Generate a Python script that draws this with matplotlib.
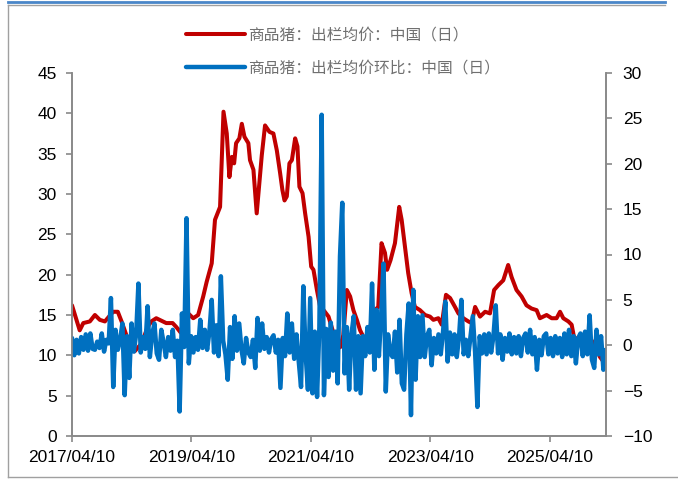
import matplotlib
matplotlib.use("Agg")
import matplotlib.pyplot as plt
from matplotlib.lines import Line2D
import pandas as pd

plt.rcParams['font.family'] = ['Liberation Sans', 'DejaVu Sans']

# 商品猪：出栏均价（元/公斤），按日期读取
price_dates = [
    "2017-04-10", "2017-05-01", "2017-05-27", "2017-06-18", "2017-07-28", "2017-08-28",
    "2017-09-27", "2017-10-28", "2017-12-17", "2018-01-15", "2018-02-07", "2018-03-17",
    "2018-04-28", "2018-06-10", "2018-07-16", "2018-08-08", "2018-09-07", "2018-11-07",
    "2018-12-16", "2019-01-08", "2019-02-04", "2019-02-23", "2019-03-11", "2019-04-21",
    "2019-05-21", "2019-06-21", "2019-07-12", "2019-08-12", "2019-09-01", "2019-10-02",
    "2019-10-23", "2019-11-12", "2019-11-28", "2019-12-13", "2019-12-27", "2020-01-08",
    "2020-01-28", "2020-02-12", "2020-02-28", "2020-03-23", "2020-04-02", "2020-04-23",
    "2020-05-13", "2020-05-27", "2020-06-13", "2020-07-03", "2020-07-30", "2020-08-23",
    "2020-09-13", "2020-10-03", "2020-10-17", "2020-10-30", "2020-11-13", "2020-11-29",
    "2020-12-14", "2021-01-03", "2021-01-17", "2021-01-29", "2021-02-17", "2021-03-05",
    "2021-03-26", "2021-04-11", "2021-04-25", "2021-05-16", "2021-06-05", "2021-06-26",
    "2021-07-26", "2021-08-26", "2021-09-15", "2021-10-05", "2021-10-24", "2021-11-15",
    "2021-12-05", "2021-12-25", "2022-01-15", "2022-02-04", "2022-02-24", "2022-03-24",
    "2022-04-17", "2022-05-05", "2022-05-26", "2022-06-15", "2022-07-06", "2022-07-19",
    "2022-08-09", "2022-09-05", "2022-10-01", "2022-10-16", "2022-11-05", "2022-11-25",
    "2022-12-16", "2023-01-05", "2023-02-05", "2023-03-08", "2023-04-07", "2023-04-28",
    "2023-05-28", "2023-06-18", "2023-07-14", "2023-08-08", "2023-09-07", "2023-09-28",
    "2023-10-28", "2023-11-28", "2023-12-18", "2024-01-08", "2024-02-07", "2024-03-09",
    "2024-04-08", "2024-05-03", "2024-05-29", "2024-06-28", "2024-07-28", "2024-08-18",
    "2024-09-17", "2024-10-18", "2024-11-17", "2024-12-18", "2025-01-18", "2025-02-07",
    "2025-03-20", "2025-04-20", "2025-05-20", "2025-06-10", "2025-06-30", "2025-07-31",
    "2025-08-20", "2025-09-03", "2025-09-28", "2025-11-09", "2025-12-22", "2026-02-09",
    "2026-03-11",
]
price_values = [
    16.2, 14.8, 13.1, 14.0, 14.2, 15.0,
    14.4, 14.2, 15.4, 15.4, 14.2, 12.0,
    10.5, 11.5, 13.5, 14.2, 14.6, 14.0,
    14.0, 13.5, 12.8, 14.5, 15.4, 14.6,
    15.0, 17.3, 19.1, 21.4, 26.8, 28.4,
    40.2, 37.5, 32.1, 34.6, 33.8, 36.3,
    36.9, 38.7, 37.1, 36.3, 34.2, 33.0,
    27.6, 30.9, 34.8, 38.5, 37.7, 37.5,
    35.4, 32.6, 30.5, 29.2, 29.7, 33.8,
    34.2, 36.9, 35.9, 30.9, 30.1, 27.6,
    24.7, 21.0, 20.6, 18.1, 16.0, 15.6,
    14.8, 12.7, 12.3, 11.0, 12.5, 18.1,
    17.3, 15.6, 14.4, 13.1, 12.3, 12.0,
    14.5, 15.6, 16.0, 23.9, 22.7, 20.6,
    21.8, 23.9, 28.4, 26.8, 23.5, 20.2,
    17.7, 16.0, 15.6, 15.0, 14.8, 14.4,
    14.6, 13.8, 17.5, 17.1, 16.0, 15.2,
    14.6, 14.2, 14.0, 16.0, 14.8, 15.4,
    15.2, 18.1, 18.7, 19.3, 21.2, 19.7,
    18.1, 17.3, 16.2, 15.8, 15.6, 14.6,
    15.0, 14.6, 14.6, 15.4, 14.6, 14.2,
    13.8, 12.3, 11.9, 11.5, 11.8, 9.8,
    9.0,
]

# 商品猪：出栏均价环比（%），每两周读取一个点，起点 2017-04-10
change_start = "2017-04-10"
change_values = [
    0.8, -1.1, 0.6, -0.9, 0.9, -0.5, 1.2, -0.6, 1.3, -0.4,
    -0.5, 0.4, -0.3, 1.3, -0.7, 0.6, 0.2, 5.2, -4.6, 1.7,
    -0.5, 0.6, 2.4, -5.5, 1.0, -3.6, 2.4, -0.7, 1.2, 6.8,
    -0.8, 0.9, -0.4, 4.3, -1.3, 1.2, 2.4, -0.9, -1.6, 1.7,
    0.3, -1.3, 0.9, -0.6, 1.7, -1.3, 0.5, -7.3, 3.5, -0.2,
    14.0, -2.0, 1.0, -0.8, 0.9, -0.5, 2.8, -0.3, 1.7, -0.5,
    1.5, 5.0, -0.8, 2.2, -1.2, 7.6, 0.5, -1.0, -3.8, 2.0,
    -1.5, 3.2, -0.6, 2.4, -0.5, -2.0, 0.8, -0.8, -1.3, 0.6,
    -2.5, 3.0, -0.6, 2.4, -0.4, 0.9, -0.8, 0.7, 1.1, -0.8,
    0.6, -4.7, 0.8, -1.2, 3.5, -0.8, 2.4, -1.5, 1.2, -1.8,
    -4.6, 6.5, -1.0, -4.9, 5.2, -5.3, 1.5, -5.7, 2.0, 25.4,
    -5.5, 1.8, -3.5, 2.5, -2.8, 1.5, -4.2, 9.8, 15.7, -3.1,
    2.0, -4.9, 1.2, 3.2, -4.9, 1.0, -5.3, 1.0, -1.2, 2.0,
    -0.8, 6.8, -2.7, 3.9, -1.2, 3.5, 9.0, -5.1, 1.2, -0.9,
    -1.3, 1.5, -3.0, 2.8, -4.2, -4.9, 1.2, 4.6, -7.7, 6.1,
    -3.8, 3.2, -1.3, 3.3, -1.3, 1.0, 1.7, -2.2, 0.8, -0.9,
    1.2, -1.0, 1.5, 4.8, -1.8, 1.4, -1.0, 1.2, -1.3, 1.0,
    5.0, -1.0, 0.6, -1.2, 1.0, 3.2, -0.8, -6.8, 1.0, -0.9,
    1.2, -1.0, 1.3, -0.8, 1.0, 4.4, -0.9, 1.2, -1.6, 0.8,
    -0.7, 1.3, -1.0, 0.9, -0.9, 1.0, -1.2, 0.8, 1.3, -0.8,
    1.7, -1.0, 0.9, -2.7, 0.6, -1.1, 1.0, 1.3, -1.0, 0.8,
    -1.2, 1.0, -0.9, 0.8, -1.3, 1.3, -1.0, 1.7, -1.2, 1.0,
    -2.0, 0.8, 1.3, -1.2, 1.5, -1.0, 3.3, -1.6, -2.5, 1.7,
    -1.0, 1.0, -2.7, -0.5,
]

tick_dates = ["2017-04-10", "2019-04-10", "2021-04-10", "2023-04-10", "2025-04-10"]
tick_labels = ["2017/04/10", "2019/04/10", "2021/04/10", "2023/04/10", "2025/04/10"]

label_price = "商品猪：出栏均价：中国（日）"
label_change = "商品猪：出栏均价环比：中国（日）"

red = "#C00000"
blue = "#0070C0"
gray = "#898989"

change_dates = pd.date_range(change_start, periods=len(change_values), freq="14D")

fig = plt.figure(figsize=(6.78, 4.8), dpi=100)
ax = fig.add_axes([72 / 678, 1 - 436 / 480, (606 - 72) / 678, (436 - 73) / 480])
ax2 = ax.twinx()

l1, = ax.plot(pd.to_datetime(price_dates), price_values, color=red, lw=2.9,
              solid_joinstyle="round", solid_capstyle="round")
l2, = ax2.plot(change_dates, change_values, color=blue, lw=3.2,
               solid_joinstyle="round", solid_capstyle="round")

ax.set_ylim(0, 45)
ax.set_yticks(range(0, 46, 5))
ax2.set_ylim(-10, 30)
ax2.set_yticks(range(-10, 31, 5))
ax.set_xlim(pd.Timestamp("2017-04-10"), pd.Timestamp("2026-03-18"))
ax.set_xticks(pd.to_datetime(tick_dates))
ax.set_xticklabels(tick_labels)

for a in (ax, ax2):
    for s in a.spines.values():
        s.set_color(gray)
        s.set_linewidth(1.2)
    a.spines["top"].set_visible(False)
    a.tick_params(axis="both", colors=gray, labelcolor="black", labelsize=12.5,
                  length=4, width=1.2, direction="out")
ax.tick_params(axis="y", pad=7)
ax2.tick_params(axis="y", pad=8)
ax.tick_params(axis="x", pad=6)

fig.legend([l1, l2], [label_price, label_change], loc="center",
           bbox_to_anchor=(0.506, 0.893), frameon=False, handlelength=3.7,
           handletextpad=0.2, labelspacing=1.02,
           prop={"family": ["Noto Sans CJK SC", "DejaVu Sans"], "size": 11.3},
           labelcolor="#707070")

# 外框
fig.add_artist(Line2D([8 / 678, 665 / 678], [1 - 2 / 480, 1 - 2 / 480], color="#4A86C8", lw=2))
fig.add_artist(Line2D([8 / 678, 665 / 678], [1 - 5 / 480, 1 - 5 / 480], color="#A0A0A0", lw=1))
fig.add_artist(Line2D([8 / 678, 8 / 678], [1 - 5 / 480, 1 - 477 / 480], color="#A0A0A0", lw=1))
fig.add_artist(Line2D([8 / 678, 1.0], [1 - 477 / 480, 1 - 477 / 480], color="#A0A0A0", lw=1))

fig.savefig("out.png", dpi=100)
